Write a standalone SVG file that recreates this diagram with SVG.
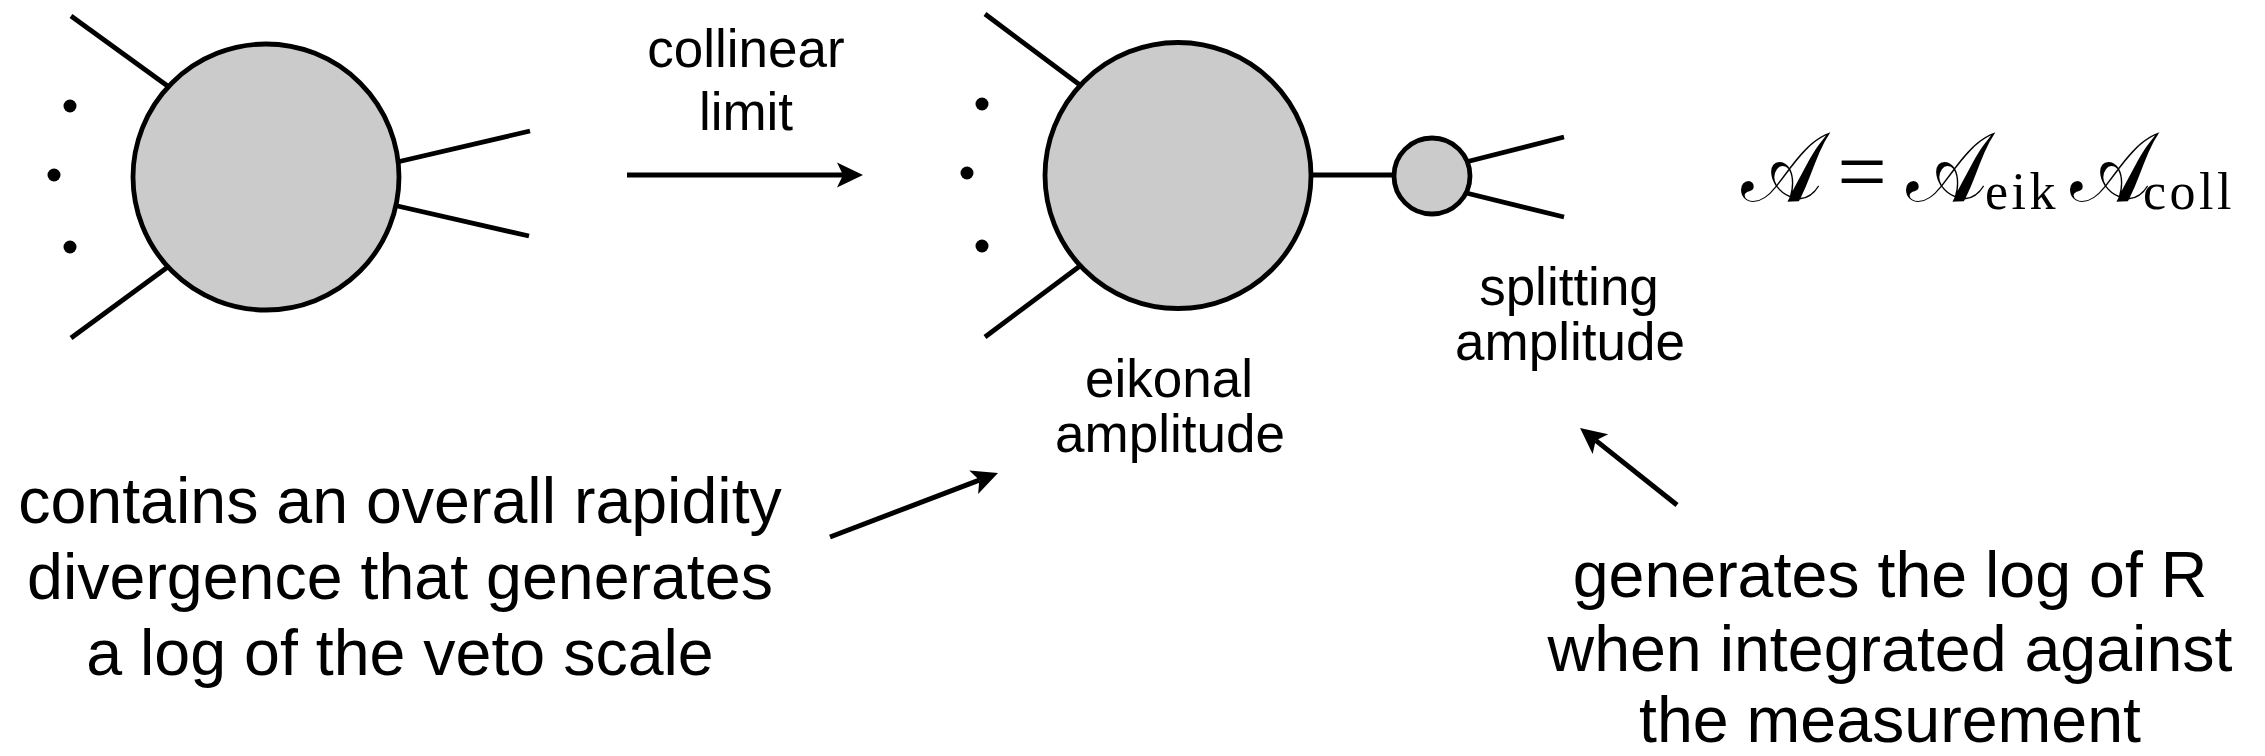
<svg xmlns="http://www.w3.org/2000/svg" width="2265" height="756" viewBox="0 0 2265 756">
  <style>
    .blob { fill: #cbcbcb; stroke: #000; stroke-width: 4.8; }
    .leg { stroke: #000; stroke-width: 4.8; fill: none; }
    .dot { fill: #000; }
    .arrow { stroke: #000; stroke-width: 5; fill: none; marker-end: url(#head); }
    .label { font-family: "Liberation Sans", Arial, Helvetica, sans-serif; fill: #000; text-anchor: middle; }
    .small { font-size: 53px; }
    .big { font-size: 64.5px; }
    .cal { font-family: "DejaVu Serif", "DejaVu Sans", "Noto Sans", serif; font-size: 98px; text-anchor: middle; }
    .rm { font-family: "Liberation Serif", "Times New Roman", serif; }
  </style>
  <defs>
    <marker id="head" markerUnits="userSpaceOnUse" markerWidth="30" markerHeight="30" viewBox="-2 -15 30 30" refX="6" refY="0" orient="auto">
      <path d="M26,0 L0,-12.5 L6,0 L0,12.5 Z" fill="#000"/>
    </marker>
  </defs>

  <!-- connectors: propagator between blobs and annotation arrows -->
  <g id="connectors">
    <line class="leg" x1="1300" y1="175" x2="1400" y2="175"/>
    <line class="arrow" x1="627" y1="175" x2="843" y2="175"/>
    <line class="arrow" x1="830" y1="537" x2="979.3" y2="480.1"/>
    <line class="arrow" x1="1677" y1="505" x2="1595.7" y2="440.4"/>
  </g>

  <!-- full amplitude -->
  <g id="full-amplitude">
    <line class="leg" x1="71" y1="16" x2="180" y2="95"/>
    <line class="leg" x1="71" y1="338" x2="180" y2="258"/>
    <line class="leg" x1="380" y1="166" x2="530" y2="131"/>
    <line class="leg" x1="380" y1="202" x2="529" y2="236"/>
    <circle class="dot" cx="70" cy="106" r="6.5"/>
    <circle class="dot" cx="54" cy="175" r="6.5"/>
    <circle class="dot" cx="70" cy="247" r="6.5"/>
    <circle class="blob" cx="266" cy="177" r="133"/>
  </g>

  <!-- collinear limit label -->
  <g id="collinear-limit">
    <text class="label small" x="746" y="67">collinear</text>
    <text class="label small" x="746" y="130">limit</text>
  </g>

  <!-- eikonal amplitude -->
  <g id="eikonal">
    <line class="leg" x1="985" y1="14" x2="1092" y2="94"/>
    <line class="leg" x1="985" y1="337" x2="1092" y2="257"/>
    <circle class="dot" cx="982" cy="104" r="6.5"/>
    <circle class="dot" cx="967" cy="173" r="6.5"/>
    <circle class="dot" cx="982" cy="246" r="6.5"/>
    <circle class="blob" cx="1178" cy="175.5" r="133"/>
    <text class="label small" x="1169" y="397">eikonal</text>
    <text class="label small" x="1170" y="452">amplitude</text>
  </g>

  <!-- splitting amplitude -->
  <g id="splitting">
    <line class="leg" x1="1450" y1="166" x2="1564" y2="137"/>
    <line class="leg" x1="1450" y1="189" x2="1564" y2="217"/>
    <circle class="blob" cx="1432" cy="176" r="38"/>
    <text class="label small" x="1569" y="305">splitting</text>
    <text class="label small" x="1570" y="360">amplitude</text>
  </g>

  <!-- factorisation formula -->
  <g id="formula">
    <text class="cal" transform="translate(1782,201) scale(0.88,1)">𝒜</text>
    <text class="rm" x="1862" y="201" font-size="88" text-anchor="middle">=</text>
    <text class="cal" transform="translate(1947,201) scale(0.88,1)">𝒜</text>
    <text class="rm" x="1985" y="209" font-size="52" letter-spacing="3.5">eik</text>
    <text class="cal" transform="translate(2111,201) scale(0.88,1)">𝒜</text>
    <text class="rm" x="2143" y="209" font-size="52" letter-spacing="3.5">coll</text>
  </g>

  <!-- annotation: eikonal -->
  <g id="note-eikonal">
    <text class="label big" x="400" y="523">contains an overall rapidity</text>
    <text class="label big" x="400" y="599">divergence that generates</text>
    <text class="label big" x="400" y="675">a log of the veto scale</text>
  </g>

  <!-- annotation: splitting -->
  <g id="note-splitting">
    <text class="label big" x="1890" y="597">generates the log of R</text>
    <text class="label big" x="1890" y="671">when integrated against</text>
    <text class="label big" x="1890" y="742">the measurement</text>
  </g>
</svg>
